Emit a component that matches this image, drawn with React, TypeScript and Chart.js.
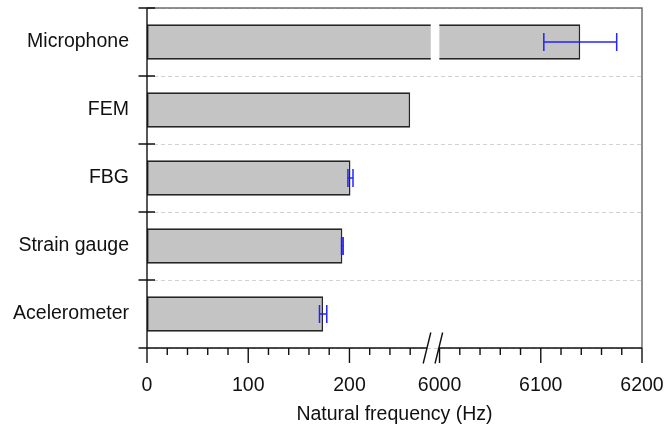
import React, { useEffect, useRef } from 'react';
import { Chart, registerables } from 'chart.js';

Chart.register(...registerables);

// ---- data ----
const categories = ['Microphone', 'FEM', 'FBG', 'Strain gauge', 'Acelerometer'];
const frequencies = [6139, 260, 201, 193, 174];
const errors = [36, 0, 2.5, 0.8, 3.6];
const xTickValues = [0, 100, 200, 6000, 6100, 6200];
const xTickLabels = ['0', '100', '200', '6000', '6100', '6200'];
const xMinorTicks = [20, 40, 60, 80, 120, 140, 160, 180, 220, 240, 260, 6020, 6040, 6060, 6080, 6120, 6140, 6160, 6180];

// broken axis: values in the high segment are shifted down by BREAK_SHIFT
const HIGH_SEGMENT_START = 5900;
const BREAK_SHIFT = 5711;
const SLASH_LOW = 276.6; // Hz, left break mark
const SLASH_HIGH = 5999.3; // Hz, right break mark
const BAR_GAP_FROM = 280.3;
const BAR_GAP_TO = 5999.8;
const AXIS_MAX = 6200;

const toAxis = (v: number) => (v >= HIGH_SEGMENT_START ? v - BREAK_SHIFT : v);

const FONT = { family: 'Arial, "Liberation Sans", sans-serif', size: 19.5 };
const TEXT_COLOR = '#111111';

const breakPlugin = {
  id: 'axisBreak',
  afterDatasetsDraw(chart: any) {
    const { ctx, scales } = chart;
    const x = scales.x;
    const y = scales.y;
    const meta = chart.getDatasetMeta(0);
    ctx.save();
    // white gap through bars that cross the break
    meta.data.forEach((bar: any, i: number) => {
      if (frequencies[i] >= HIGH_SEGMENT_START) {
        const x0 = x.getPixelForValue(toAxis(BAR_GAP_FROM));
        const x1 = x.getPixelForValue(toAxis(BAR_GAP_TO));
        ctx.fillStyle = '#ffffff';
        ctx.fillRect(x0, bar.y - bar.height / 2 - 2, x1 - x0, bar.height + 4);
      }
    });
    // error bars
    ctx.strokeStyle = 'rgba(25,25,255,0.95)';
    ctx.lineWidth = 1.5;
    frequencies.forEach((f, i) => {
      const e = errors[i];
      if (!e) return;
      const yc = y.getPixelForValue(i);
      const xl = x.getPixelForValue(toAxis(f - e));
      const xr = x.getPixelForValue(toAxis(f + e));
      ctx.beginPath();
      ctx.moveTo(xl, yc);
      ctx.lineTo(xr, yc);
      ctx.moveTo(xl, yc - 9);
      ctx.lineTo(xl, yc + 9);
      ctx.moveTo(xr, yc - 9);
      ctx.lineTo(xr, yc + 9);
      ctx.stroke();
    });
    ctx.restore();
  },
  afterDraw(chart: any) {
    const { ctx, chartArea, scales } = chart;
    const x = scales.x;
    const y = scales.y;
    const { left, right, top, bottom } = chartArea;
    ctx.save();
    // top & right frame
    ctx.strokeStyle = '#6e6e6e';
    ctx.lineWidth = 1.5;
    ctx.beginPath();
    ctx.moveTo(left, top);
    ctx.lineTo(right, top);
    ctx.lineTo(right, bottom);
    ctx.stroke();

    ctx.strokeStyle = '#111111';
    ctx.lineWidth = 1.4;
    const sLow = x.getPixelForValue(toAxis(SLASH_LOW));
    const sHigh = x.getPixelForValue(toAxis(SLASH_HIGH));
    ctx.beginPath();
    // left axis
    ctx.moveTo(left, top);
    ctx.lineTo(left, bottom);
    // bottom axis with break
    ctx.moveTo(left, bottom);
    ctx.lineTo(sLow, bottom);
    ctx.moveTo(sHigh, bottom);
    ctx.lineTo(right, bottom);
    // y ticks at category boundaries
    for (let i = 0; i <= categories.length; i++) {
      const yb = Math.round(y.getPixelForValue(i - 0.5));
      ctx.moveTo(left - 8.5, yb);
      ctx.lineTo(left + 8, yb);
    }
    // x major ticks
    xTickValues.forEach((v) => {
      const xp = x.getPixelForValue(toAxis(v));
      ctx.moveTo(xp, bottom);
      ctx.lineTo(xp, bottom + 15);
    });
    // x minor ticks
    xMinorTicks.forEach((v) => {
      const xp = x.getPixelForValue(toAxis(v));
      ctx.moveTo(xp, bottom);
      ctx.lineTo(xp, bottom + 7);
    });
    // break marks
    [sLow, sHigh].forEach((sx) => {
      ctx.moveTo(sx - 3.8, bottom + 15.5);
      ctx.lineTo(sx + 3.8, bottom - 15.5);
    });
    ctx.stroke();
    ctx.restore();
  },
};

const zeroPadding = (s: any) => {
  s.paddingLeft = 0;
  s.paddingRight = 0;
  s.paddingTop = 0;
  s.paddingBottom = 0;
};

export default function App() {
  const ref = useRef<HTMLCanvasElement>(null);
  useEffect(() => {
    const canvas = ref.current;
    if (!canvas) return;
    const chart = new Chart(canvas, {
      type: 'bar',
      data: {
        labels: categories,
        datasets: [
          {
            data: frequencies.map(toAxis),
            backgroundColor: '#c4c4c4',
            borderColor: '#262626',
            borderWidth: 1.7,
            borderSkipped: false,
            barPercentage: 0.52,
            categoryPercentage: 1,
          },
        ],
      },
      options: {
        indexAxis: 'y',
        responsive: false,
        animation: false,
        devicePixelRatio: 1,
        layout: { padding: { top: 8, right: 22, left: 0, bottom: 0 } },
        plugins: { legend: { display: false }, tooltip: { enabled: false } },
        scales: {
          x: {
            type: 'linear',
            min: 0,
            max: toAxis(AXIS_MAX),
            afterBuildTicks: (s: any) => {
              s.ticks = xTickValues.map((v) => ({ value: toAxis(v) }));
            },
            afterFit: (s: any) => {
              s.height = 86;
              zeroPadding(s);
            },
            grid: { display: false, drawTicks: false },
            border: { display: false },
            ticks: {
              autoSkip: false,
              maxRotation: 0,
              padding: 26,
              color: TEXT_COLOR,
              font: FONT,
              callback: (_v: any, i: number) => xTickLabels[i],
            },
            title: {
              display: true,
              text: 'Natural frequency (Hz)',
              color: TEXT_COLOR,
              font: FONT,
              padding: { top: 0, bottom: 8 },
            },
          },
          y: {
            type: 'category',
            offset: true,
            afterFit: (s: any) => {
              s.width = 147;
              zeroPadding(s);
            },
            grid: { display: true, color: '#d2d2d2', lineWidth: 1, drawTicks: false, offset: true },
            border: { display: false, dash: [4, 3] },
            ticks: { padding: 18, color: TEXT_COLOR, font: FONT },
          },
        },
      } as any,
      plugins: [breakPlugin],
    });
    return () => chart.destroy();
  }, []);
  return (
    <div style={{ position: 'fixed', left: 0, top: 0, width: 664, height: 434, background: '#fff' }}>
      <canvas ref={ref} width={664} height={434} style={{ display: 'block' }} />
    </div>
  );
}
